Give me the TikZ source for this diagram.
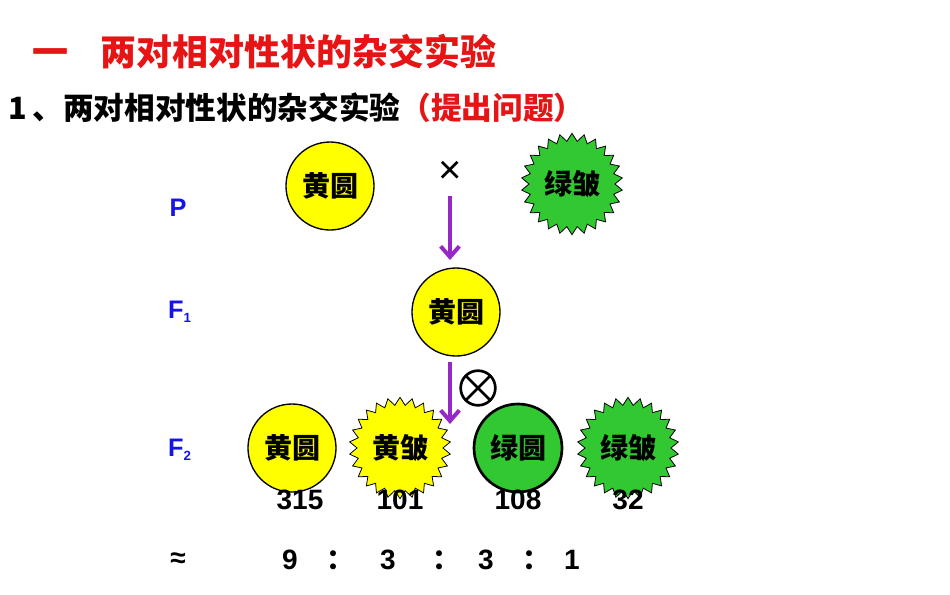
\documentclass[tikz,border=0pt]{standalone}
\usepackage{fontspec}
\setmainfont{Liberation Sans}
\newfontfamily\cjk{Noto Sans CJK SC}
\usetikzlibrary{shapes.geometric,arrows.meta,calc}
\definecolor{myred}{RGB}{230,20,20}
\definecolor{myblue}{RGB}{20,20,230}
\definecolor{ylw}{RGB}{255,255,0}
\definecolor{grn}{RGB}{50,200,50}
\definecolor{pur}{RGB}{150,40,200}
\begin{document}
\begin{tikzpicture}[x=0.75pt,y=-0.75pt,
  lab/.style={font=\cjk\bfseries\fontsize{21}{21}\selectfont},
  ball/.style={circle,draw=black,line width=1pt,minimum size=66pt,inner sep=0pt,lab},
  burst/.style={star,star points=26,star point ratio=1.18,draw=black,line width=0.6pt,minimum size=76pt,inner sep=0pt,lab},
  gen/.style={font=\bfseries\fontsize{19}{19}\selectfont,text=myblue},
  num/.style={font=\bfseries\fontsize{21}{21}\selectfont},
  arr/.style={pur,line width=3pt,-{Straight Barb[length=8pt,width=14pt]}}]
\useasboundingbox (0,0) rectangle (950,594);
\node[anchor=west,text=myred,font=\cjk\bfseries\fontsize{27}{27}\selectfont] (t1) at (28,52) {一\hspace{24pt}两对相对性状的杂交实验};
\node[anchor=west,font=\cjk\bfseries\fontsize{23}{23}\selectfont] (t2) at (4,108) {1\,、两对相对性状的杂交实验\textcolor{myred}{（提出问题）}};
\node[gen] (P) at (178,208) {P};
\node[gen] (F1) at (180,312) {F\textsubscript{\fontsize{10}{10}\selectfont 1}};
\node[gen] (F2) at (180,450) {F\textsubscript{\fontsize{10}{10}\selectfont 2}};
\node[ball,fill=ylw] (p1) at (330,186) {黄圆};
\node[font=\fontsize{30}{30}\selectfont] (x) at (450,172) {×};
\node[burst,fill=grn] (p2) at (572,184) {绿皱};
\node[ball,fill=ylw] (f1) at (456,312) {黄圆};
\coordinate (a1) at (450,196);
\coordinate (a2) at (450,260);
\draw[arr] (a1) -- (a2);
\coordinate (a3) at (450,362);
\coordinate (a4) at (450,424);
\draw[arr] (a3) -- (a4);
\node[circle,draw=black,line width=2pt,minimum size=26pt,inner sep=0pt] (self) at (478,388) {};
\draw[line width=2pt] ($(self.center)+(-12.5,-12.5)$) -- ($(self.center)+(12.5,12.5)$);
\draw[line width=2pt] ($(self.center)+(-12.5,12.5)$) -- ($(self.center)+(12.5,-12.5)$);
\node[ball,fill=ylw] (g1) at (292,448) {黄圆};
\node[burst,fill=ylw] (g2) at (400,448) {黄皱};
\node[ball,fill=grn,line width=2pt] (g3) at (518,448) {绿圆};
\node[burst,fill=grn] (g4) at (628,448) {绿皱};
\node[num] (n1) at (300,500) {315};
\node[num] (n2) at (400,500) {101};
\node[num] (n3) at (518,500) {108};
\node[num] (n4) at (628,500) {32};
\node[num] (ap) at (178,560) {≈};
\node[num] (r1) at (290,560) {9};
\node[num] (c1) at (340,560) {\cjk ：};
\node[num] (r2) at (388,560) {3};
\node[num] (c2) at (446,560) {\cjk ：};
\node[num] (r3) at (486,560) {3};
\node[num] (c3) at (536,560) {\cjk ：};
\node[num] (r4) at (572,560) {1};
\end{tikzpicture}
\end{document}
